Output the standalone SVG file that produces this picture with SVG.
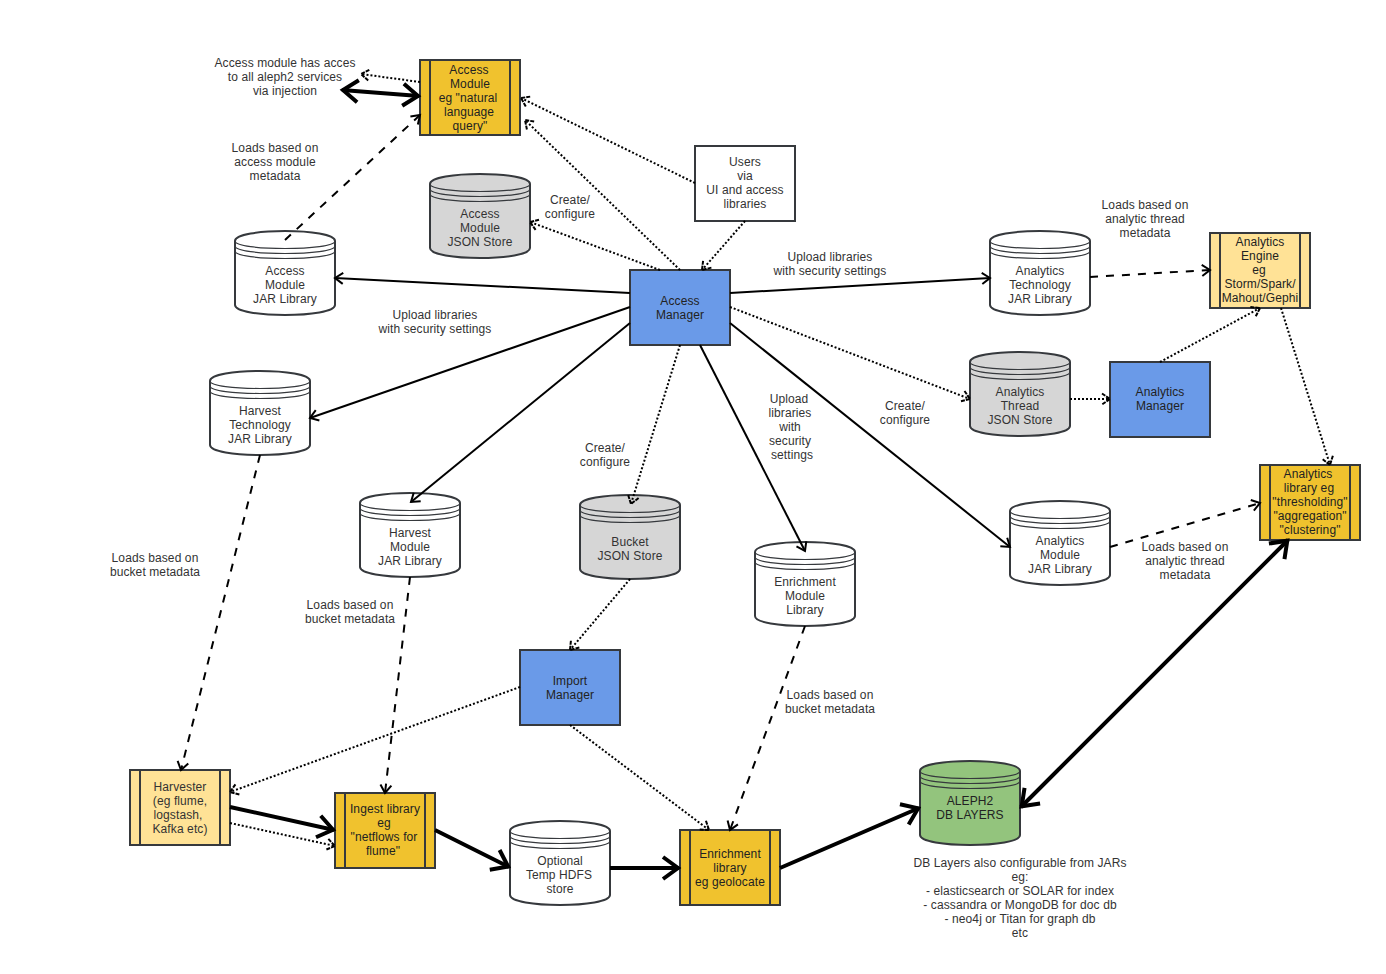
<svg xmlns="http://www.w3.org/2000/svg" xmlns:xlink="http://www.w3.org/1999/xlink" width="1386" height="974" viewBox="0 0 1386 974">
<style>
text{font-family:"Liberation Sans",Arial,sans-serif;font-size:12px;letter-spacing:.1px;fill:#333;text-anchor:middle}
.n{stroke:#36393d;stroke-width:2}
.i{stroke:#36393d;stroke-width:1.2}
.w{fill:#fff}.g{fill:#d6d6d6}.b{fill:#6a9ae8}.y{fill:#f0c22e}.l{fill:#ffe296}.v{fill:#93c47d}
.c{fill:none;stroke:#000;stroke-width:2;marker-end:url(#a)}
.dot{stroke-dasharray:2 2;marker-end:url(#ad)}
.dash{stroke-dasharray:8 8}
.thick{stroke-width:4;marker-end:url(#at)}
.both{marker-start:url(#as)}
text.dk{fill:#222}
</style>
<defs>
<marker id="a" markerUnits="userSpaceOnUse" markerWidth="20" markerHeight="20" refX="10" refY="10" orient="auto"><path d="M2,4.5 L10,10 L2,15.5" fill="none" stroke="#000" stroke-width="2"/></marker>
<marker id="ad" markerUnits="userSpaceOnUse" markerWidth="20" markerHeight="20" refX="10" refY="10" orient="auto"><path d="M2,4.5 L10,10 L2,15.5" fill="none" stroke="#000" stroke-width="2" stroke-dasharray="4 1"/></marker>
<marker id="at" markerUnits="userSpaceOnUse" markerWidth="40" markerHeight="40" refX="20" refY="20" orient="auto"><path d="M4,9 L19,20 L4,31" fill="none" stroke="#000" stroke-width="4"/></marker>
<marker id="as" markerUnits="userSpaceOnUse" markerWidth="40" markerHeight="40" refX="20" refY="20" orient="auto"><path d="M36,9 L21,20 L36,31" fill="none" stroke="#000" stroke-width="4"/></marker>
<path id="cyl" d="M0,10 C0,-3.3 100,-3.3 100,10 L100,74 C100,87.3 0,87.3 0,74 Z"/>
<path id="cylL" d="M0,10 C0,20 100,20 100,10 M0,15 C0,25 100,25 100,15 M0,20 C0,30 100,30 100,20" fill="none"/>
<path id="bars" d="M10,0 V75 M90,0 V75" fill="none"/>
</defs>

<g id="access-module"><rect class="n y" x="420" y="60" width="100" height="75"/><use href="#bars" x="420" y="60" class="n"/><text class="dk"><tspan x="469" y="74">Access</tspan><tspan x="470" y="88">Module</tspan><tspan x="468" y="102">eg "natural</tspan><tspan x="469" y="116">language</tspan><tspan x="470" y="130">query"</tspan></text></g>
<g id="users"><rect class="n w" x="695" y="146" width="100" height="75"/><text><tspan x="745" y="166">Users</tspan><tspan x="745" y="180">via</tspan><tspan x="745" y="194">UI and access</tspan><tspan x="745" y="208">libraries</tspan></text></g>
<g id="access-manager"><rect class="n b" x="630" y="270" width="100" height="75"/><text class="dk"><tspan x="680" y="305">Access</tspan><tspan x="680" y="319">Manager</tspan></text></g>
<g id="analytics-manager"><rect class="n b" x="1110" y="362" width="100" height="75"/><text class="dk"><tspan x="1160" y="396">Analytics</tspan><tspan x="1160" y="410">Manager</tspan></text></g>
<g id="import-manager"><rect class="n b" x="520" y="650" width="100" height="75"/><text class="dk"><tspan x="570" y="685">Import</tspan><tspan x="570" y="699">Manager</tspan></text></g>
<g id="analytics-engine"><rect class="n l" x="1210" y="233" width="100" height="75"/><use href="#bars" x="1210" y="233" class="n"/><text class="dk"><tspan x="1260" y="246">Analytics</tspan><tspan x="1260" y="260">Engine</tspan><tspan x="1259" y="274">eg</tspan><tspan x="1260" y="288">Storm/Spark/</tspan><tspan x="1260" y="302">Mahout/Gephi</tspan></text></g>
<g id="analytics-library"><rect class="n y" x="1260" y="465" width="100" height="75"/><use href="#bars" x="1260" y="465" class="n"/><text class="dk"><tspan x="1308" y="478">Analytics</tspan><tspan x="1309" y="492">library eg</tspan><tspan x="1310" y="506">"thresholding"</tspan><tspan x="1310" y="520">"aggregation"</tspan><tspan x="1310" y="534">"clustering"</tspan></text></g>
<g id="harvester"><rect class="n l" x="130" y="770" width="100" height="75"/><use href="#bars" x="130" y="770" class="n"/><text><tspan x="180" y="791">Harvester</tspan><tspan x="180" y="805">(eg flume,</tspan><tspan x="178" y="819">logstash,</tspan><tspan x="180" y="833">Kafka etc)</tspan></text></g>
<g id="ingest-library"><rect class="n y" x="335" y="793" width="100" height="75"/><use href="#bars" x="335" y="793" class="n"/><text class="dk"><tspan x="385" y="813">Ingest library</tspan><tspan x="384" y="827">eg</tspan><tspan x="384" y="841">"netflows for</tspan><tspan x="383" y="855">flume"</tspan></text></g>
<g id="enrichment-library"><rect class="n y" x="680" y="830" width="100" height="75"/><use href="#bars" x="680" y="830" class="n"/><text class="dk"><tspan x="730" y="858">Enrichment</tspan><tspan x="730" y="872">library</tspan><tspan x="730" y="886">eg geolocate</tspan></text></g>

<g id="access-json-store"><use href="#cyl" x="430" y="174" class="n g"/><use href="#cylL" x="430" y="174" class="i"/><text><tspan x="480" y="218">Access</tspan><tspan x="480" y="232">Module</tspan><tspan x="480" y="246">JSON Store</tspan></text></g>
<g id="access-jar"><use href="#cyl" x="235" y="231" class="n w"/><use href="#cylL" x="235" y="231" class="i"/><text><tspan x="285" y="275">Access</tspan><tspan x="285" y="289">Module</tspan><tspan x="285" y="303">JAR Library</tspan></text></g>
<g id="harvest-tech-jar"><use href="#cyl" x="210" y="371" class="n w"/><use href="#cylL" x="210" y="371" class="i"/><text><tspan x="260" y="415">Harvest</tspan><tspan x="260" y="429">Technology</tspan><tspan x="260" y="443">JAR Library</tspan></text></g>
<g id="harvest-module-jar"><use href="#cyl" x="360" y="493" class="n w"/><use href="#cylL" x="360" y="493" class="i"/><text><tspan x="410" y="537">Harvest</tspan><tspan x="410" y="551">Module</tspan><tspan x="410" y="565">JAR Library</tspan></text></g>
<g id="bucket-store"><use href="#cyl" x="580" y="495" class="n g"/><use href="#cylL" x="580" y="495" class="i"/><text><tspan x="630" y="546">Bucket</tspan><tspan x="630" y="560">JSON Store</tspan></text></g>
<g id="enrichment-module"><use href="#cyl" x="755" y="542" class="n w"/><use href="#cylL" x="755" y="542" class="i"/><text><tspan x="805" y="586">Enrichment</tspan><tspan x="805" y="600">Module</tspan><tspan x="805" y="614">Library</tspan></text></g>
<g id="analytics-tech-jar"><use href="#cyl" x="990" y="231" class="n w"/><use href="#cylL" x="990" y="231" class="i"/><text><tspan x="1040" y="275">Analytics</tspan><tspan x="1040" y="289">Technology</tspan><tspan x="1040" y="303">JAR Library</tspan></text></g>
<g id="analytics-thread-store"><use href="#cyl" x="970" y="352" class="n g"/><use href="#cylL" x="970" y="352" class="i"/><text><tspan x="1020" y="396">Analytics</tspan><tspan x="1020" y="410">Thread</tspan><tspan x="1020" y="424">JSON Store</tspan></text></g>
<g id="analytics-module-jar"><use href="#cyl" x="1010" y="501" class="n w"/><use href="#cylL" x="1010" y="501" class="i"/><text><tspan x="1060" y="545">Analytics</tspan><tspan x="1060" y="559">Module</tspan><tspan x="1060" y="573">JAR Library</tspan></text></g>
<g id="hdfs-store"><use href="#cyl" x="510" y="821" class="n w"/><use href="#cylL" x="510" y="821" class="i"/><text><tspan x="560" y="865">Optional</tspan><tspan x="559" y="879">Temp HDFS</tspan><tspan x="560" y="893">store</tspan></text></g>
<g id="aleph2-db"><use href="#cyl" x="920" y="761" class="n v"/><use href="#cylL" x="920" y="761" class="i"/><text class="dk"><tspan x="970" y="805">ALEPH2</tspan><tspan x="970" y="819">DB LAYERS</tspan></text></g>

<g id="connectors">
<path class="c dot" d="M420,82 L361,74"/>
<path class="c thick both" d="M342,90 L419,96"/>
<path class="c dash" d="M285,240 L420,115"/>
<path class="c dot" d="M695,183 L521,98"/>
<path class="c dot" d="M680,270 L525,120"/>
<path class="c dot" d="M745,221 L702,270"/>
<path class="c dot" d="M660,270 L530,222"/>
<path class="c" d="M630,293 L335,278"/>
<path class="c" d="M730,293 L990,278"/>
<path class="c dash" d="M1090,277 L1210,270"/>
<path class="c dot" d="M730,307 L970,399"/>
<path class="c dot" d="M1070,399 L1110,399"/>
<path class="c dot" d="M1160,362 L1260,308"/>
<path class="c dot" d="M1281,308 L1330,465"/>
<path class="c" d="M630,307 L310,418"/>
<path class="c" d="M630,323 L411,502"/>
<path class="c dot" d="M680,345 L631,504"/>
<path class="c" d="M700,345 L805,551"/>
<path class="c" d="M730,323 L1010,547"/>
<path class="c dash" d="M1110,547 L1260,503"/>
<path class="c dash" d="M260,455 L181,770"/>
<path class="c dash" d="M410,577 L385,793"/>
<path class="c dot" d="M630,579 L570,650"/>
<path class="c dot" d="M520,687 L230,792"/>
<path class="c dot" d="M570,725 L709,830"/>
<path class="c dash" d="M805,626 L730,830"/>
<path class="c thick" d="M230,807 L334,830"/>
<path class="c dot" d="M230,823 L335,846"/>
<path class="c thick" d="M435,830 L509,867"/>
<path class="c thick" d="M610,868 L679,868"/>
<path class="c thick" d="M780,868 L919,808"/>
<path class="c thick both" d="M1021,807 L1288,540"/>
</g>

<g id="labels">
<text><tspan x="285" y="67">Access module has acces</tspan><tspan x="285" y="81">to all aleph2 services</tspan><tspan x="285" y="95">via injection</tspan></text>
<text><tspan x="275" y="152">Loads based on</tspan><tspan x="275" y="166">access module</tspan><tspan x="275" y="180">metadata</tspan></text>
<text><tspan x="570" y="204">Create/</tspan><tspan x="570" y="218">configure</tspan></text>
<text><tspan x="830" y="261">Upload libraries</tspan><tspan x="830" y="275">with security settings</tspan></text>
<text><tspan x="435" y="319">Upload libraries</tspan><tspan x="435" y="333">with security settings</tspan></text>
<text><tspan x="1145" y="209">Loads based on</tspan><tspan x="1145" y="223">analytic thread</tspan><tspan x="1145" y="237">metadata</tspan></text>
<text><tspan x="789" y="403">Upload</tspan><tspan x="790" y="417">libraries</tspan><tspan x="790" y="431">with</tspan><tspan x="790" y="445">security</tspan><tspan x="792" y="459">settings</tspan></text>
<text><tspan x="905" y="410">Create/</tspan><tspan x="905" y="424">configure</tspan></text>
<text><tspan x="605" y="452">Create/</tspan><tspan x="605" y="466">configure</tspan></text>
<text><tspan x="155" y="562">Loads based on</tspan><tspan x="155" y="576">bucket metadata</tspan></text>
<text><tspan x="350" y="609">Loads based on</tspan><tspan x="350" y="623">bucket metadata</tspan></text>
<text><tspan x="1185" y="551">Loads based on</tspan><tspan x="1185" y="565">analytic thread</tspan><tspan x="1185" y="579">metadata</tspan></text>
<text><tspan x="830" y="699">Loads based on</tspan><tspan x="830" y="713">bucket metadata</tspan></text>
<text><tspan x="1020" y="867">DB Layers also configurable from JARs</tspan><tspan x="1020" y="881">eg:</tspan><tspan x="1020" y="895">- elasticsearch or SOLAR for index</tspan><tspan x="1020" y="909">- cassandra or MongoDB for doc db</tspan><tspan x="1020" y="923">- neo4j or Titan for graph db</tspan><tspan x="1020" y="937">etc</tspan></text>
</g>
</svg>
